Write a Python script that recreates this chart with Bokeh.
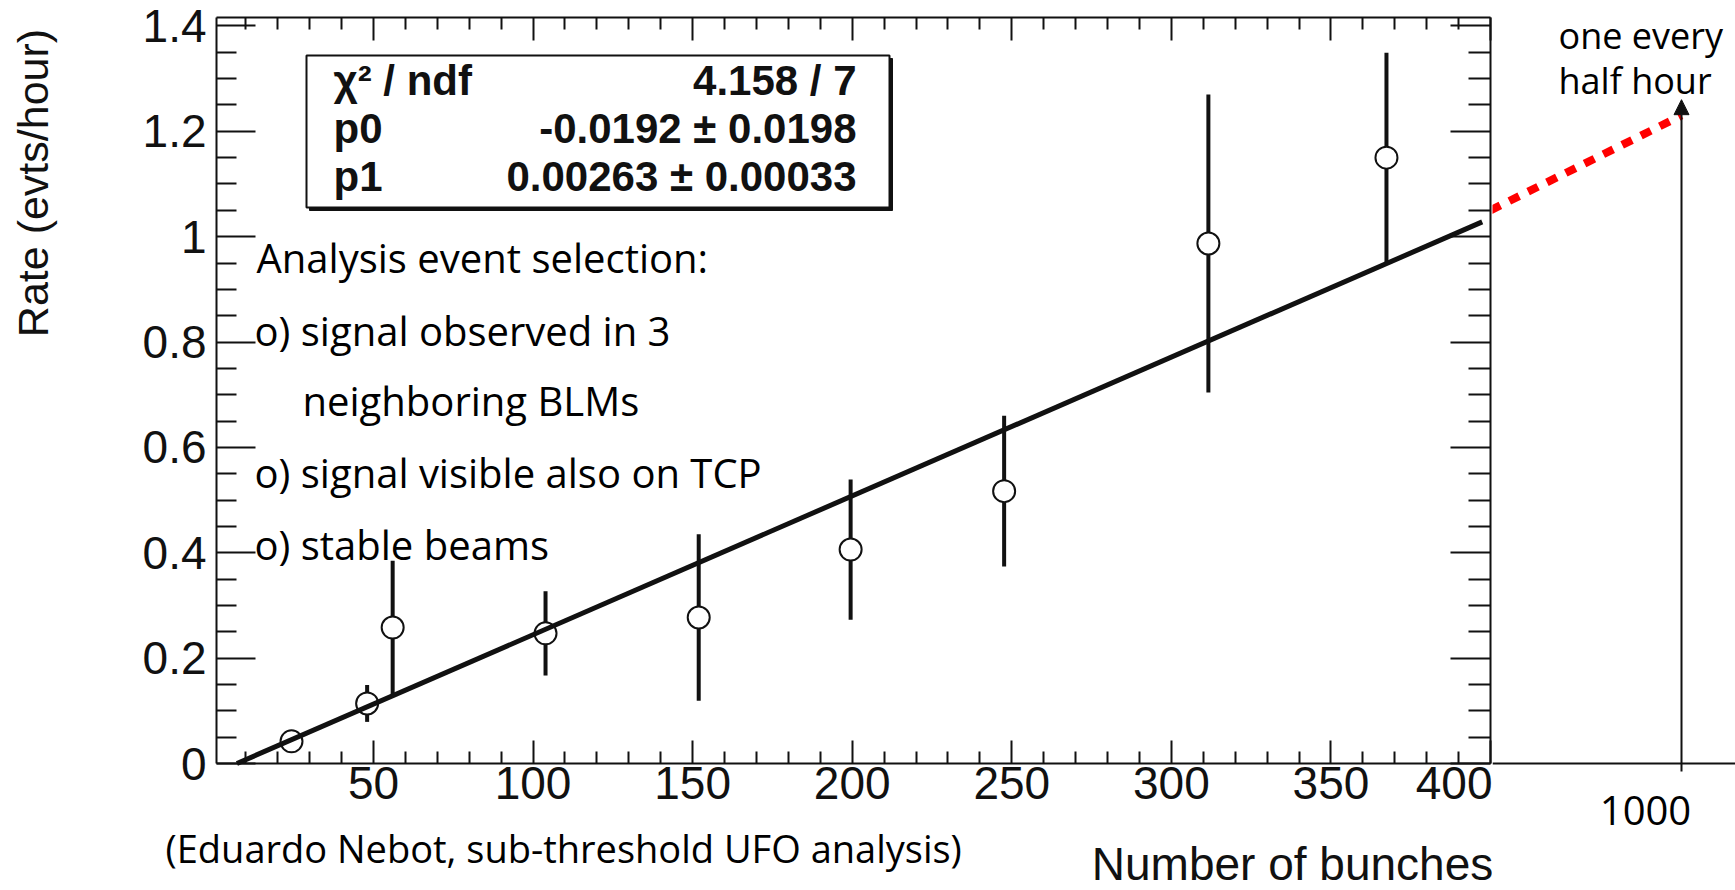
from bokeh.plotting import figure
from bokeh.layouts import row
from bokeh.models import (Range1d, FixedTicker, LinearAxis, Label, BoxAnnotation,
                          Arrow, NormalHead)
from bokeh.embed import file_html
from bokeh.resources import INLINE

# ---------------- data ----------------
bunches = [24.3, 48.0, 56.0, 103.9, 151.9, 199.5, 247.6, 311.6, 367.4]
rate = [0.042, 0.114, 0.258, 0.247, 0.277, 0.406, 0.517, 0.987, 1.150]
rate_err = [0.010, 0.035, 0.127, 0.080, 0.158, 0.133, 0.143, 0.283, 0.199]

fit_x = [7.2, 397.4]
fit_y = [0.0, 1.028]

ext_x = [400, 1000]
ext_y = [1.05, 1.23]
arrow_x = 1000
arrow_top = 1.26

x_lo, x_hi = 0.8, 400          # ROOT frame range, x
y_lo, y_hi = 0.0, 1.416        # ROOT frame range, y

x_ticks = [50, 100, 150, 200, 250, 300, 350, 400]
x_tick_labels = ["50", "100", "150", "200", "250", "300", "350", "400"]
x_minor = [10, 20, 30, 40, 60, 70, 80, 90, 110, 120, 130, 140, 160, 170, 180, 190,
           210, 220, 230, 240, 260, 270, 280, 290, 310, 320, 330, 340, 360, 370, 380, 390]
y_ticks = [0, 0.2, 0.4, 0.6, 0.8, 1, 1.2, 1.4]
y_tick_labels = ["0", "0.2", "0.4", "0.6", "0.8", "1", "1.2", "1.4"]
y_minor = [0.05, 0.1, 0.15, 0.25, 0.3, 0.35, 0.45, 0.5, 0.55, 0.65, 0.7, 0.75,
           0.85, 0.9, 0.95, 1.05, 1.1, 1.15, 1.25, 1.3, 1.35]

x_title = "Number of bunches"
y_title = "Rate (evts/hour)"

stats_names = ["\u03c7\u00b2 / ndf", "p0", "p1"]
stats_values = ["4.158 / 7", "-0.0192 \u00b1 0.0198", "0.00263 \u00b1 0.00033"]

notes = ["Analysis event selection:", "o) signal observed in 3", "neighboring BLMs",
         "o) signal visible also on TCP", "o) stable beams"]

SANS = "Liberation Sans"
HAND = "Open Sans"
INK = "#111111"
TICK_FS = "46px"

# pixel geometry of the ROOT frame on the 1735x890 canvas
FL, FR, FT, FB, H = 216, 1490, 17, 763, 890
kx = (FR - FL) / (x_hi - x_lo)
ky = (FB - FT) / (y_hi - y_lo)
MAIN_W = 1492
Y0 = y_lo - (H - FB) / ky
Y1 = y_hi + FT / ky
X0 = x_lo - FL / kx
X1 = x_hi + (MAIN_W - FR) / kx

shared_y = Range1d(Y0, Y1)

# ---------------- main panel ----------------
p = figure(width=MAIN_W, height=H, x_range=Range1d(X0, X1), y_range=shared_y,
           output_backend="svg", toolbar_location=None, min_border=0,
           min_border_left=0, min_border_right=0, min_border_top=0, min_border_bottom=0)
p.grid.visible = False
p.outline_line_color = None
p.background_fill_color = "white"
p.border_fill_color = "white"

xt = FixedTicker(ticks=x_ticks, minor_ticks=x_minor)
yt = FixedTicker(ticks=y_ticks, minor_ticks=y_minor)


def style(ax, ticker, major_in, minor_in, show_labels, loc, bounds):
    ax.ticker = ticker
    ax.fixed_location = loc
    ax.bounds = bounds
    ax.axis_line_color = INK
    ax.axis_line_width = 2
    ax.major_tick_in = major_in
    ax.major_tick_out = 0
    ax.minor_tick_in = minor_in
    ax.minor_tick_out = 0
    ax.major_tick_line_color = INK
    ax.minor_tick_line_color = INK
    ax.major_tick_line_width = 2
    ax.minor_tick_line_width = 2
    if show_labels:
        ax.major_label_text_font = SANS
        ax.major_label_text_font_size = TICK_FS
        ax.major_label_text_color = INK
    else:
        ax.major_label_text_color = None
        ax.major_label_standoff = 0


def title_axis(ax, ticker, loc, bounds, label, size, standoff):
    # carries only the (ROOT-style, end-aligned) axis title
    ax.ticker = ticker
    ax.fixed_location = loc
    ax.bounds = bounds
    ax.axis_line_color = None
    ax.major_tick_in = 0
    ax.major_tick_out = 0
    ax.minor_tick_in = 0
    ax.minor_tick_out = 0
    ax.major_tick_line_color = None
    ax.minor_tick_line_color = None
    ax.major_label_text_color = None
    ax.major_label_standoff = 0
    ax.axis_label = label
    ax.axis_label_text_font = SANS
    ax.axis_label_text_font_size = size
    ax.axis_label_text_font_style = "normal"
    ax.axis_label_text_color = INK
    ax.axis_label_standoff = standoff


xb = p.xaxis[0]
style(xb, xt, 23, 12, True, y_lo, (x_lo, x_hi))
xb.major_label_overrides = dict(zip(x_ticks, x_tick_labels))
xb.major_label_standoff = 3

yl = p.yaxis[0]
style(yl, yt, 39, 20, True, x_lo, (y_lo, y_hi))
yl.major_label_overrides = dict(zip(y_ticks, y_tick_labels))
yl.major_label_standoff = 10

xtop = LinearAxis()
style(xtop, xt, 23, 12, False, y_hi, (x_lo, x_hi))
p.add_layout(xtop, "above")
yright = LinearAxis()
style(yright, yt, 40, 22, False, x_hi, (y_lo, y_hi))
p.add_layout(yright, "right")

# axis titles, placed at the far end of each axis as ROOT does
xtitle_ax = LinearAxis()
title_axis(xtitle_ax, xt, y_lo, (276.0, x_hi), x_title, "46px", 74)
p.add_layout(xtitle_ax, "below")
ytitle_ax = LinearAxis()
title_axis(ytitle_ax, yt, x_lo, (0.788, y_hi), y_title, "43px", 160)
p.add_layout(ytitle_ax, "left")

# error bars, markers, fit
low = [r - e for r, e in zip(rate, rate_err)]
high = [r + e for r, e in zip(rate, rate_err)]
p.segment(x0=bunches, y0=low, x1=bunches, y1=high, line_color=INK, line_width=4)
p.scatter(bunches, rate, marker="circle", size=22, fill_color="white",
          line_color=INK, line_width=2)
p.line(fit_x, fit_y, line_color=INK, line_width=5)

# stats box (shadow + box), screen units from the canvas bottom-left
p.add_layout(BoxAnnotation(left=309, right=892, top=832, bottom=680,
                           left_units="screen", right_units="screen",
                           top_units="screen", bottom_units="screen",
                           fill_color=INK, fill_alpha=1, line_color=INK, line_alpha=1))
p.add_layout(BoxAnnotation(left=306, right=889, top=835, bottom=683,
                           left_units="screen", right_units="screen",
                           top_units="screen", bottom_units="screen",
                           fill_color="white", fill_alpha=1, line_color=INK,
                           line_width=2, line_alpha=1))

for name, val, yy in zip(stats_names, stats_values, [810, 762, 714]):
    p.add_layout(Label(x=333, y=yy, x_units="screen", y_units="screen", text=name,
                       text_font=SANS, text_font_style="bold", text_font_size="42px",
                       text_color=INK, text_baseline="alphabetic", text_align="left"))
    p.add_layout(Label(x=856, y=yy, x_units="screen", y_units="screen", text=val,
                       text_font=SANS, text_font_style="bold", text_font_size="42px",
                       text_color=INK, text_baseline="alphabetic", text_align="right"))

for txt, xx, yy in zip(notes, [256, 254, 302, 254, 254], [633, 560, 490, 418, 346]):
    p.add_layout(Label(x=xx, y=yy, x_units="screen", y_units="screen", text=txt,
                       text_font=HAND, text_font_size="40px", text_color="black",
                       text_baseline="alphabetic", text_align="left"))

p.add_layout(Label(x=165, y=43, x_units="screen", y_units="screen",
                   text="(Eduardo Nebot, sub-threshold UFO analysis)",
                   text_font=HAND, text_font_size="38px", text_color="black",
                   text_baseline="alphabetic", text_align="left"))

# ---------------- extrapolation panel ----------------
P2_W = 1735 - MAIN_W
kx2 = (1681 - FR) / (arrow_x - x_hi)      # px per unit in the extrapolated part
p2 = figure(width=P2_W, height=H,
            x_range=Range1d(x_hi + (MAIN_W - FR) / kx2, x_hi + (1735 - FR) / kx2),
            y_range=shared_y, output_backend="svg", toolbar_location=None,
            y_axis_location=None, min_border=0,
            min_border_left=0, min_border_right=0, min_border_top=0, min_border_bottom=0)
p2.grid.visible = False
p2.outline_line_color = None
p2.background_fill_color = "white"
p2.border_fill_color = "white"
xb2 = p2.xaxis[0]
xb2.ticker = FixedTicker(ticks=[arrow_x], minor_ticks=[])
xb2.fixed_location = y_lo
xb2.axis_line_color = INK
xb2.axis_line_width = 2
xb2.major_tick_in = 0
xb2.major_tick_out = 8
xb2.major_tick_line_width = 2
xb2.major_tick_line_color = INK
xb2.minor_tick_in = 0
xb2.minor_tick_out = 0
xb2.major_label_text_color = None
xb2.major_label_standoff = 0

p2.line(ext_x, ext_y, line_color="red", line_width=8, line_dash="11 10")
p2.add_layout(Arrow(end=NormalHead(size=15, fill_color=INK, line_color=INK),
                    x_start=arrow_x, y_start=y_lo, x_end=arrow_x, y_end=arrow_top,
                    line_color=INK, line_width=2))
p2.add_layout(Label(x=153, y=80, x_units="screen", y_units="screen",
                    text="1000", text_font=HAND, text_font_size="40px", text_color="black",
                    text_baseline="alphabetic", text_align="center"))
p2.add_layout(Label(x=66, y=855, x_units="screen", y_units="screen", text="one every",
                    text_font=HAND, text_font_size="36px", text_color="black",
                    text_baseline="alphabetic", text_align="left"))
p2.add_layout(Label(x=66, y=810, x_units="screen", y_units="screen", text="half hour",
                    text_font=HAND, text_font_size="36px", text_color="black",
                    text_baseline="alphabetic", text_align="left"))

layout = row(p, p2)
open("out.html", "w").write(file_html(layout, INLINE))
